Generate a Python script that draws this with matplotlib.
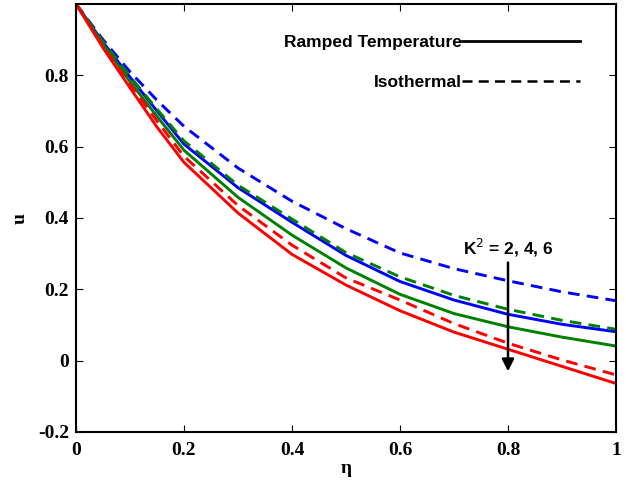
import matplotlib
matplotlib.use("Agg")
import matplotlib.pyplot as plt
from matplotlib.lines import Line2D

eta = [0.0, 0.05, 0.1, 0.15, 0.2, 0.3, 0.4, 0.5, 0.6, 0.7, 0.8, 0.9, 1.0]

# Ramped temperature (solid)
ramp_K2 = [1.0, 0.893, 0.795, 0.700, 0.607, 0.485, 0.388, 0.295, 0.222, 0.170, 0.130, 0.102, 0.081]
ramp_K4 = [1.0, 0.888, 0.782, 0.685, 0.590, 0.458, 0.352, 0.260, 0.186, 0.132, 0.095, 0.066, 0.041]
ramp_K6 = [1.0, 0.877, 0.765, 0.655, 0.556, 0.414, 0.298, 0.212, 0.140, 0.080, 0.032, -0.016, -0.064]

# Isothermal (dashed)
iso_K2 = [1.0, 0.900, 0.810, 0.730, 0.657, 0.540, 0.447, 0.370, 0.302, 0.258, 0.224, 0.193, 0.168]
iso_K4 = [1.0, 0.895, 0.797, 0.705, 0.616, 0.492, 0.397, 0.303, 0.235, 0.183, 0.144, 0.113, 0.088]
iso_K6 = [1.0, 0.882, 0.775, 0.672, 0.573, 0.435, 0.324, 0.232, 0.170, 0.104, 0.049, 0.002, -0.040]

colors = ["#0000ff", "#008000", "#ff0000"]
xticks = [0, 0.2, 0.4, 0.6, 0.8, 1]
xticklabels = ["0", "0.2", "0.4", "0.6", "0.8", "1"]
yticks = [-0.2, 0, 0.2, 0.4, 0.6, 0.8]
yticklabels = ["-0.2", "0", "0.2", "0.4", "0.6", "0.8"]

fig = plt.figure(figsize=(6.26, 4.82), dpi=100)
ax = fig.add_axes([76/626, 1-432/482, 540/626, 428/482])

lw = 2.1
for ys, c in zip([ramp_K2, ramp_K4, ramp_K6], colors):
    ax.plot(eta, ys, color=c, lw=lw, solid_capstyle="butt", solid_joinstyle="round")
for ys, c in zip([iso_K2, iso_K4, iso_K6], colors):
    ax.plot(eta, ys, color=c, lw=lw, dashes=(4, 2.5))

ax.set_xlim(0, 1)
ax.set_ylim(-0.2, 1.0)
ax.set_xticks(xticks)
ax.set_xticklabels(xticklabels)
ax.set_yticks(yticks)
ax.set_yticklabels(yticklabels)

tfont = dict(family="Liberation Serif", weight="bold", size=14)
for lab in ax.get_xticklabels() + ax.get_yticklabels():
    lab.set_fontfamily("Liberation Serif")
    lab.set_fontweight("bold")
    lab.set_fontsize(14)
ax.tick_params(direction="in", top=True, right=True, length=5, width=0.8,
               colors="black")
ax.tick_params(axis="x", pad=7)
ax.tick_params(axis="y", pad=5)
for s in ax.spines.values():
    s.set_linewidth(1.5)

ax.set_xlabel("η", fontdict=tfont, labelpad=1)
ax.set_ylabel("u", fontdict=tfont, labelpad=7)

handles = [Line2D([], [], color="black", lw=2.0),
           Line2D([], [], color="black", lw=1.8, dashes=(4, 2.5))]
leg = ax.legend(handles, ["Ramped Temperature", "Isothermal"],
                loc="upper right", bbox_to_anchor=(0.933, 0.928),
                markerfirst=False, frameon=False, handlelength=6.8,
                handletextpad=0.0, labelspacing=1.45, borderpad=0,
                borderaxespad=0,
                prop=dict(family="Liberation Sans", weight="bold", size=12.5))

ax.annotate("", xy=(0.8, -0.03), xytext=(0.8, 0.275),
            arrowprops=dict(arrowstyle="-|>", color="black", lw=1.8,
                            mutation_scale=18, shrinkA=0, shrinkB=0))
ax.text(0.8, 0.285, "K$^2$ = 2, 4, 6", ha="center", va="bottom",
        family="Liberation Sans", weight="bold", size=12.5)

fig.savefig("out.png", dpi=100)
